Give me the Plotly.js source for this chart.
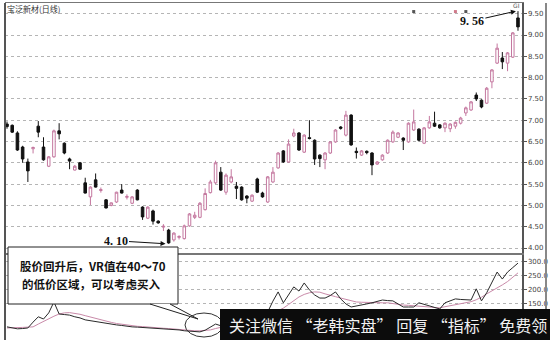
<!DOCTYPE html>
<html>
<head>
<meta charset="utf-8">
<script src="https://cdn.plot.ly/plotly-3.0.1.min.js"></script>
<style>
  html, body { margin: 0; padding: 0; background: #fff; }
  #chart { width: 550px; height: 340px; }
</style>
</head>
<body>
<div id="chart"></div>
<script>
// Daily candles (oldest -> newest)
const open  = [6.91,6.88,6.70,6.37,6.02,6.33,6.86,6.37,5.92,6.14,6.75,6.46,6.09,5.83,6.00,5.53,5.20,5.60,5.35,5.13,
               5.00,5.08,5.36,5.19,5.05,5.36,4.96,4.70,4.87,4.63,4.49,4.42,4.19,4.25,4.22,4.52,4.72,4.72,4.90,5.30,
               5.53,5.78,5.31,5.55,5.45,5.43,5.22,5.10,5.62,5.29,5.08,5.55,5.88,6.28,6.02,6.63,6.70,6.25,6.59,6.53,
               6.18,6.07,6.23,6.49,6.84,6.65,7.12,6.27,6.18,6.27,6.23,5.97,6.07,6.23,6.49,6.60,6.58,6.49,6.77,6.79,
               6.46,6.82,6.93,6.89,6.82,6.80,6.86,6.93,7.17,7.24,7.59,7.47,7.40,7.90,8.34,8.46,8.34,8.48,9.40];
const high  = [6.97,6.90,6.74,6.40,6.10,6.38,6.98,6.60,6.16,6.78,6.93,6.48,6.12,5.95,6.02,5.65,5.45,5.75,5.42,5.15,
               5.07,5.32,5.50,5.26,5.22,5.38,4.98,4.98,4.90,4.65,4.56,4.45,4.37,4.30,4.55,4.82,4.85,5.08,5.40,5.60,
               6.05,5.90,5.75,5.85,5.55,5.45,5.24,5.26,5.65,5.32,5.69,5.90,6.25,6.30,6.55,6.80,6.72,6.67,7.00,6.55,
               6.20,6.25,6.51,6.79,6.86,7.22,7.14,6.36,6.30,6.29,6.25,6.04,6.20,6.55,6.76,6.72,6.60,6.95,7.25,6.81,
               6.84,7.10,7.20,6.91,6.95,6.93,6.97,7.08,7.32,7.45,7.65,7.49,7.78,8.20,8.80,8.60,8.60,9.07,9.56];
const low   = [6.80,6.70,6.28,6.00,5.55,6.22,6.60,6.05,5.90,6.12,6.55,6.20,5.85,5.82,5.84,5.28,5.01,5.42,5.30,4.93,
               4.98,5.06,5.28,5.14,5.03,5.12,4.66,4.68,4.55,4.57,4.40,4.10,4.15,4.20,4.20,4.50,4.68,4.70,4.88,5.28,
               5.50,5.34,5.25,5.52,5.15,5.11,5.05,5.08,5.29,5.18,5.06,5.53,5.86,6.00,6.00,6.60,6.28,6.23,6.55,5.95,
               5.90,5.85,6.21,6.47,6.78,6.62,6.40,6.10,6.16,6.20,5.71,5.95,6.05,6.21,6.47,6.58,6.30,6.47,6.75,6.50,
               6.44,6.80,6.84,6.80,6.72,6.72,6.80,6.90,7.10,7.22,7.45,7.28,7.38,7.75,8.32,8.20,8.15,8.46,9.10];
const close = [6.85,6.72,6.30,6.09,5.81,6.36,6.72,6.07,6.14,6.75,6.68,6.23,6.04,5.92,5.85,5.29,5.43,5.43,5.37,4.94,
               5.06,5.31,5.29,5.21,5.20,5.13,4.73,4.96,4.63,4.59,4.51,4.12,4.35,4.27,4.52,4.80,4.77,5.05,5.28,5.55,
               6.00,5.36,5.71,5.67,5.40,5.13,5.17,5.24,5.31,5.20,5.67,5.78,6.23,6.02,6.44,6.70,6.30,6.65,6.57,6.09,
               6.10,6.23,6.49,6.77,6.81,7.12,6.42,6.24,6.28,6.24,5.95,6.02,6.18,6.53,6.72,6.70,6.53,6.93,6.96,6.53,
               6.82,6.96,6.86,6.82,6.93,6.91,6.95,7.05,7.29,7.43,7.50,7.31,7.75,8.18,8.69,8.37,8.58,9.05,9.19];

// VR indicator and its moving average
const vr   = [68,64,61,62,64,85,104,96,118,157,114,112,110,104,100,93,90,86,82,80,
              77,75,73,70,68,67,66,64,63,62,61,60,58,57,54,53,52,50,56,68,
              78,72,85,92,88,96,90,102,108,98,121,160,193,154,185,211,196,225,200,182,
              171,171,180,193,168,150,139,142,146,150,154,158,164,162,161,150,139,139,139,154,
              148,143,138,132,154,160,168,166,165,164,204,161,190,228,264,239,264,280,296];
const vrMa = [64,64,65,66,67,68,78,88,98,106,114,118,119,117,113,108,103,97,92,88,
              84,80,77,74,71,70,69,67,66,64,63,62,60,58,56,55,54,54,55,57,
              62,66,70,74,78,82,86,92,98,104,110,118,126,135,148,162,175,184,190,193,
              192,186,182,176,171,166,162,157,156,155,154,154,154,154,151,148,146,145,144,143,
              141,139,137,136,140,144,148,152,155,158,165,174,186,196,206,218,230,245,261];

// Signal dots along the top of the price panel
const signalDays   = [79, 87, 89];
const signalLevel  = [9.55, 9.55, 9.55];
const signalColors = ['#555555', '#d07a8a', '#555555'];

// Axis tick labels
const priceTicks = [4.0,4.5,5.0,5.5,6.0,6.5,7.0,7.5,8.0,8.5,9.0,9.5];
const priceLabels = ['4.00','4.50','5.00','5.50','6.00','6.50','7.00','7.50','8.00','8.50','9.00','9.50'];
const vrTicks = [150, 200, 250, 300];
const vrLabels = ['150.0','200.0','250.0','300.0'];

const days = close.map((_, i) => i + 1);

const W = 550, H = 340;
const M = { l: 5, r: 28, t: 3, b: 0 };
const px = x => (x - M.l) / (W - M.l - M.r);
const py = y => (H - M.b - y) / (H - M.t - M.b);

const pink = '#c4779f';
const ink = '#111111';

const traces = [
  {
    type: 'candlestick',
    x: days, open: open, high: high, low: low, close: close,
    xaxis: 'x', yaxis: 'y',
    increasing: { line: { color: pink, width: 1 }, fillcolor: '#ffffff' },
    decreasing: { line: { color: ink, width: 1 }, fillcolor: ink },
    whiskerwidth: 0,
    showlegend: false, hoverinfo: 'skip'
  },
  {
    type: 'scatter', mode: 'markers',
    x: signalDays, y: signalLevel,
    xaxis: 'x', yaxis: 'y',
    marker: { size: 3, color: signalColors, symbol: 'square' },
    showlegend: false, hoverinfo: 'skip'
  },
  {
    type: 'scatter', mode: 'lines',
    x: days, y: vrMa, xaxis: 'x2', yaxis: 'y2',
    line: { color: '#c98aa9', width: 1 },
    showlegend: false, hoverinfo: 'skip'
  },
  {
    type: 'scatter', mode: 'lines',
    x: days, y: vr, xaxis: 'x2', yaxis: 'y2',
    line: { color: '#2a2a2a', width: 1 },
    showlegend: false, hoverinfo: 'skip'
  }
];

const tickFont = { family: 'DejaVu Sans, sans-serif', size: 7, color: '#444' };
const xRange = [0.616, 99.77];

const layout = {
  width: W, height: H,
  margin: M,
  paper_bgcolor: '#ffffff', plot_bgcolor: '#ffffff',
  showlegend: false,
  xaxis: {
    domain: [0, 1], anchor: 'y', range: xRange,
    showticklabels: false, showgrid: false, zeroline: false,
    showline: true, mirror: true, linecolor: '#777', linewidth: 1.5,
    rangeslider: { visible: false }, fixedrange: true
  },
  xaxis2: {
    domain: [0, 1], anchor: 'y2', range: xRange,
    showticklabels: false, showgrid: false, zeroline: false,
    showline: true, mirror: true, linecolor: '#777', linewidth: 1.5,
    fixedrange: true
  },
  yaxis: {
    domain: [py(253), 1], anchor: 'x', side: 'right',
    range: [3.883, 9.751],
    tickvals: priceTicks, ticktext: priceLabels,
    tickfont: tickFont, ticks: 'outside', ticklen: 3, tickcolor: '#555',
    showgrid: true, gridcolor: '#b5b5b5', griddash: 'dot', gridwidth: 1,
    zeroline: false, showline: true, linecolor: '#555', linewidth: 1.5,
    fixedrange: true
  },
  yaxis2: {
    domain: [0, py(255)], anchor: 'x2', side: 'right',
    range: [21, 325],
    tickvals: vrTicks, ticktext: vrLabels,
    tickfont: tickFont, ticks: 'outside', ticklen: 3, tickcolor: '#555',
    showgrid: true, gridcolor: '#b5b5b5', griddash: 'dot', gridwidth: 1,
    zeroline: false, showline: true, linecolor: '#555', linewidth: 1.5,
    fixedrange: true
  },
  shapes: [
    // outer right frame
    { type: 'line', xref: 'paper', yref: 'paper', x0: px(546), x1: px(546), y0: 0, y1: 1,
      line: { color: '#888', width: 2 }, layer: 'above' },
    // left frame
    { type: 'line', xref: 'paper', yref: 'paper', x0: px(5), x1: px(5), y0: 0, y1: 1,
      line: { color: '#555', width: 2 }, layer: 'above' },
    // callout box
    { type: 'rect', xref: 'paper', yref: 'paper',
      x0: px(8), x1: px(178), y0: py(304), y1: py(247),
      fillcolor: '#ffffff', line: { color: '#222', width: 1 }, layer: 'above' },
    // callout tail
    { type: 'path', xref: 'paper', yref: 'paper',
      path: `M ${px(150)},${py(304)} L ${px(198)},${py(319)} L ${px(170)},${py(304)}`,
      fillcolor: '#ffffff', line: { color: '#222', width: 1 }, layer: 'above' },
    // ring around the low VR zone
    { type: 'circle', xref: 'paper', yref: 'paper',
      x0: px(185), x1: px(223), y0: py(337), y1: py(313),
      line: { color: '#333', width: 1 }, layer: 'above' },
    // footer banner
    { type: 'rect', xref: 'paper', yref: 'paper',
      x0: px(220), x1: px(560), y0: py(345), y1: py(309),
      fillcolor: '#0c0c0c', line: { width: 0 }, layer: 'above' }
  ],
  annotations: [
    { xref: 'paper', yref: 'paper', x: 0, y: py(1.5), xanchor: 'left', yanchor: 'top',
      text: '宝泛新材(日线)', showarrow: false,
      font: { family: 'Noto Sans CJK SC', size: 8, color: '#333' } },
    { xref: 'paper', yref: 'paper', x: px(516), y: py(6), xanchor: 'center', yanchor: 'middle',
      text: 'GI', showarrow: false,
      font: { family: 'DejaVu Sans', size: 6, color: '#555' } },
    { xref: 'x', yref: 'y', x: 31.4, y: 4.10,
      text: '<b>4. 10</b>', showarrow: true,
      arrowhead: 2, arrowsize: 1, arrowwidth: 1, arrowcolor: '#111',
      ax: -50, ay: -3, standoff: 0,
      font: { family: 'Liberation Serif, serif', size: 12, color: '#111' } },
    { xref: 'x', yref: 'y', x: 98.6, y: 9.56,
      text: '<b>9. 56</b>', showarrow: true,
      arrowhead: 2, arrowsize: 1, arrowwidth: 1, arrowcolor: '#111',
      ax: -44, ay: 10, standoff: 0,
      font: { family: 'Liberation Serif, serif', size: 12, color: '#111' } },
    { xref: 'paper', yref: 'paper', x: px(93), y: py(266), xanchor: 'center', yanchor: 'middle',
      text: '<b>股价回升后，VR值在40～70</b>', showarrow: false,
      font: { family: 'Noto Sans CJK SC', size: 11.5, color: '#111' } },
    { xref: 'paper', yref: 'paper', x: px(91), y: py(284), xanchor: 'center', yanchor: 'middle',
      text: '<b>的低价区域，可以考虑买入</b>', showarrow: false,
      font: { family: 'Noto Sans CJK SC', size: 11.5, color: '#111' } },
    { xref: 'paper', yref: 'paper', x: px(227), y: py(325), xanchor: 'left', yanchor: 'middle',
      text: '关注微信 “老韩实盘” 回复 “指标” 免费领', showarrow: false,
      font: { family: 'Noto Sans CJK SC', size: 16, color: '#f2f2f2' } }
  ]
};

Plotly.newPlot('chart', traces, layout, { staticPlot: true, displayModeBar: false });
</script>
</body>
</html>
